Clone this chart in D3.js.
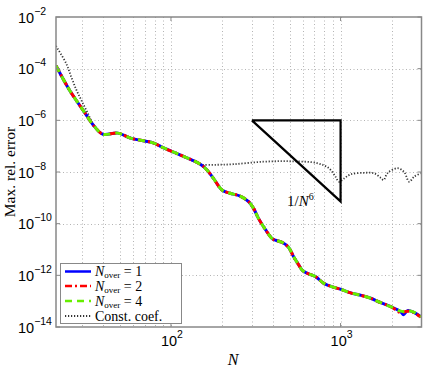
<!DOCTYPE html>
<html>
<head>
<meta charset="utf-8">
<script src="https://cdn.jsdelivr.net/npm/d3@7"></script>
<style>
  body { margin: 0; background: #fff; }
  svg text { fill: #000; }
</style>
</head>
<body>
<svg id="chart"></svg>
<script>
const width = 428;
const height = 368;

// values
const nMain = [21, 25.2, 30.3, 35.5, 39.7, 48.7, 58.5, 78.5, 90, 113, 149, 163, 178, 200, 223, 256, 287, 307, 328, 360, 394, 413, 452, 494, 529, 567, 593, 635, 711, 797, 893, 1000, 1146, 1313, 1505, 1726, 1977, 2265, 2350, 2480, 2718, 2974];
const errOver1 = [1.3e-4, 1.5e-5, 2.5e-6, 5.6e-7, 2.9e-7, 3.2e-7, 2.0e-7, 1.35e-7, 8.7e-8, 4.6e-8, 2.0e-8, 1.2e-8, 5.7e-9, 2.0e-9, 1.5e-9, 1.17e-9, 7.1e-10, 3.9e-10, 1.6e-10, 6.0e-11, 2.7e-11, 2.3e-11, 1.9e-11, 1.2e-11, 5.2e-12, 2.5e-12, 1.6e-12, 1.2e-12, 8.9e-13, 4.9e-13, 3.6e-13, 2.9e-13, 2.1e-13, 1.7e-13, 1.3e-13, 8.7e-14, 6.1e-14, 3.9e-14, 3.0e-14, 4.3e-14, 3.6e-14, 2.5e-14];
const errOver2 = [1.3e-4, 1.5e-5, 2.5e-6, 5.6e-7, 2.9e-7, 3.2e-7, 2.0e-7, 1.35e-7, 8.7e-8, 4.6e-8, 2.0e-8, 1.2e-8, 5.7e-9, 2.0e-9, 1.5e-9, 1.17e-9, 7.1e-10, 3.9e-10, 1.6e-10, 6.0e-11, 2.7e-11, 2.3e-11, 1.9e-11, 1.2e-11, 5.2e-12, 2.5e-12, 1.6e-12, 1.2e-12, 8.9e-13, 4.9e-13, 3.6e-13, 2.9e-13, 2.1e-13, 1.7e-13, 1.3e-13, 8.7e-14, 6.1e-14, 3.6e-14, 3.8e-14, 4.1e-14, 3.6e-14, 2.4e-14];
const errOver4 = [1.3e-4, 1.5e-5, 2.5e-6, 5.6e-7, 2.9e-7, 3.2e-7, 2.0e-7, 1.35e-7, 8.7e-8, 4.6e-8, 2.0e-8, 1.2e-8, 5.7e-9, 2.0e-9, 1.5e-9, 1.17e-9, 7.1e-10, 3.9e-10, 1.6e-10, 6.0e-11, 2.7e-11, 2.3e-11, 1.9e-11, 1.2e-11, 5.2e-12, 2.5e-12, 1.6e-12, 1.2e-12, 8.9e-13, 4.9e-13, 3.6e-13, 2.9e-13, 2.1e-13, 1.7e-13, 1.3e-13, 8.7e-14, 6.1e-14, 4.1e-14, 4.0e-14, 4.3e-14, 3.7e-14, 2.5e-14];

const nConst = [21, 24.1, 25.8, 27.7, 29.6, 32.3, 35.5, 39.7, 48.7, 58.5, 78.5, 90, 113, 149, 155, 182, 233, 350, 506, 728, 853, 934, 977, 1047, 1146, 1374, 1575, 1726, 1795, 1888, 2166, 2372, 2537, 2718, 2974];
const errConst = [7.5e-4, 1.6e-4, 4.9e-5, 1.5e-5, 6.1e-6, 1.9e-6, 5.6e-7, 2.9e-7, 3.2e-7, 2.0e-7, 1.35e-7, 8.7e-8, 4.6e-8, 2.0e-8, 1.9e-8, 1.9e-8, 2.0e-8, 2.5e-8, 2.6e-8, 2.2e-8, 1.4e-8, 6.6e-9, 4.2e-9, 5.6e-9, 8.1e-9, 9.3e-9, 8.9e-9, 5.9e-9, 4.9e-9, 8.9e-9, 1.4e-8, 1.0e-8, 4.2e-9, 6.6e-9, 8.9e-9];

// slope triangle 1/N^6
const triN = [300, 1000, 1000, 300];
const triErr = [1e-6, 1e-6, 1e-6 * Math.pow(0.3, 6), 1e-6];

const xMajor = [100, 1000];
const xGrid = [30, 40, 50, 60, 70, 80, 90, 100, 200, 300, 400, 500, 600, 700, 800, 900, 1000, 2000];
const yMajorExp = [-2, -4, -6, -8, -10, -12, -14];

const legendNover = ["1", "2", "4"];

const margin = { left: 56, right: 6.5, top: 17, bottom: 41 };
const svg = d3.select("#chart").attr("width", width).attr("height", height);

const x = d3.scaleLog().domain([21, 3000]).range([margin.left, width - margin.right]);
const y = d3.scaleLog().domain([1e-14, 1e-2]).range([height - margin.bottom, margin.top]);

const x0 = x.range()[0], x1 = x.range()[1];
const y0 = y.range()[0], y1 = y.range()[1];

// grid
const grid = svg.append("g").attr("stroke", "#b4b4b4").attr("stroke-width", 1).attr("stroke-dasharray", "1,2.5");
grid.selectAll("line.v").data(xGrid).enter().append("line")
  .attr("x1", d => Math.round(x(d)) + 0.5).attr("x2", d => Math.round(x(d)) + 0.5)
  .attr("y1", y1).attr("y2", y0);
grid.selectAll("line.h").data(yMajorExp.slice(1, -1)).enter().append("line")
  .attr("y1", d => Math.round(y(Math.pow(10, d))) + 0.5).attr("y2", d => Math.round(y(Math.pow(10, d))) + 0.5)
  .attr("x1", x0).attr("x2", x1);

svg.append("clipPath").attr("id", "clip").append("rect")
  .attr("x", x0).attr("y", y1).attr("width", x1 - x0).attr("height", y0 - y1);

const line = d3.line().x(d => x(d[0])).y(d => y(d[1])).curve(d3.curveCatmullRom.alpha(0.5));
const plot = svg.append("g").attr("clip-path", "url(#clip)");

const constDash = "1.2,1.8";
plot.append("path").datum(d3.zip(nConst, errConst)).attr("d", line)
  .attr("fill", "none").attr("stroke", "#333").attr("stroke-width", 1.8).attr("stroke-dasharray", constDash);

const series = [
  { vals: errOver1, color: "#0000ff", dash: null },
  { vals: errOver2, color: "#ff0000", dash: "7,3,2,3" },
  { vals: errOver4, color: "#66ee00", dash: "7,5" }
];
series.forEach(s => {
  plot.append("path").datum(d3.zip(nMain, s.vals)).attr("d", line)
    .attr("fill", "none").attr("stroke", s.color).attr("stroke-width", 3)
    .attr("stroke-dasharray", s.dash);
});

// triangle
svg.append("path").datum(d3.zip(triN, triErr))
  .attr("d", d3.line().x(d => x(d[0])).y(d => y(d[1])))
  .attr("fill", "none").attr("stroke", "#000").attr("stroke-width", 2.2);

const tri = svg.append("text").attr("x", 287).attr("y", 206)
  .attr("font-family", "Liberation Serif, serif").attr("font-size", 15);
tri.append("tspan").text("1/");
tri.append("tspan").attr("font-style", "italic").text("N");
tri.append("tspan").attr("font-size", 10).attr("dy", -6).text("6");

// axes box
const axisColor = "#888";
svg.append("rect").attr("x", x0).attr("y", y1).attr("width", x1 - x0).attr("height", y0 - y1)
  .attr("fill", "none").attr("stroke", axisColor).attr("stroke-width", 1.5);

// ticks
const ticks = svg.append("g").attr("stroke", axisColor).attr("stroke-width", 1);
yMajorExp.forEach(e => {
  const yy = y(Math.pow(10, e));
  ticks.append("line").attr("x1", x0).attr("x2", x0 + 4).attr("y1", yy).attr("y2", yy);
  ticks.append("line").attr("x1", x1).attr("x2", x1 - 4).attr("y1", yy).attr("y2", yy);
});
xMajor.forEach(v => {
  const xx = x(v);
  ticks.append("line").attr("x1", xx).attr("x2", xx).attr("y1", y0).attr("y2", y0 - 4);
  ticks.append("line").attr("x1", xx).attr("x2", xx).attr("y1", y1).attr("y2", y1 + 4);
});

// tick labels
const sans = "Liberation Sans, Arial, sans-serif";
yMajorExp.forEach(e => {
  const t = svg.append("text").attr("x", 18).attr("y", y(Math.pow(10, e)) + 5.5)
    .attr("font-family", sans).attr("font-size", 14.5);
  t.append("tspan").text("10");
  t.append("tspan").attr("font-size", 10.5).attr("dy", -8).text("\u2212" + Math.abs(e));
});
xMajor.forEach(v => {
  const t = svg.append("text").attr("x", x(v) - 10).attr("y", 345.5)
    .attr("font-family", sans).attr("font-size", 14.5);
  t.append("tspan").text("10");
  t.append("tspan").attr("font-size", 10.5).attr("dy", -8).text(Math.round(Math.log10(v)));
});

// axis titles
svg.append("text").attr("x", 233).attr("y", 365).attr("text-anchor", "middle")
  .attr("font-family", "Liberation Serif, serif").attr("font-style", "italic").attr("font-size", 16).text("N");
svg.append("text").attr("transform", `translate(15,${(y0 + y1) / 2}) rotate(-90)`)
  .attr("text-anchor", "middle").attr("font-family", "Liberation Serif, serif").attr("font-size", 15.5)
  .text("Max. rel. error");

// legend
const lg = svg.append("g");
lg.append("rect").attr("x", 60.5).attr("y", 263.5).attr("width", 121).attr("height", 60)
  .attr("fill", "#fff").attr("stroke", axisColor).attr("stroke-width", 1);
const rowsY = [271.5, 286, 301, 316];
series.forEach((s, i) => {
  lg.append("line").attr("x1", 65).attr("x2", 91).attr("y1", rowsY[i]).attr("y2", rowsY[i])
    .attr("stroke", s.color).attr("stroke-width", 2.5).attr("stroke-dasharray", s.dash);
  const t = lg.append("text").attr("x", 95).attr("y", rowsY[i] + 4.5)
    .attr("font-family", "Liberation Serif, serif").attr("font-size", 14);
  t.append("tspan").attr("font-style", "italic").text("N");
  t.append("tspan").attr("font-size", 9).attr("dy", 2).text("over");
  t.append("tspan").attr("dy", -2).text(" = " + legendNover[i]);
});
lg.append("line").attr("x1", 65).attr("x2", 91).attr("y1", rowsY[3]).attr("y2", rowsY[3])
  .attr("stroke", "#333").attr("stroke-width", 1.8).attr("stroke-dasharray", constDash);
lg.append("text").attr("x", 95).attr("y", rowsY[3] + 4.5)
  .attr("font-family", "Liberation Serif, serif").attr("font-size", 14).text("Const. coef.");
</script>
</body>
</html>
